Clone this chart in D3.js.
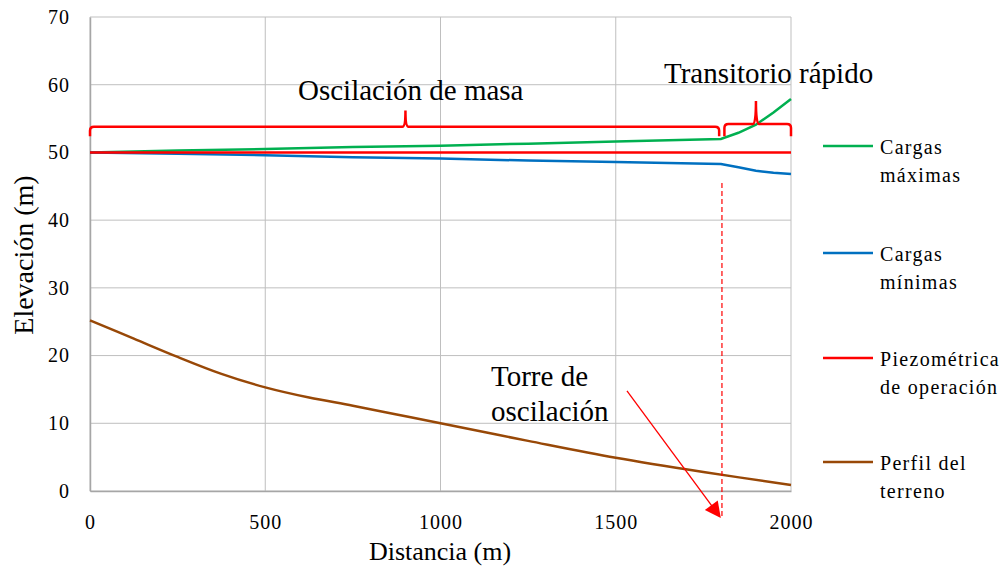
<!DOCTYPE html>
<html>
<head>
<meta charset="utf-8">
<script src="https://cdn.jsdelivr.net/npm/d3@7"></script>
<style>
  body { margin: 0; background: #fff; }
  svg text { font-family: "Liberation Serif", "Tinos", "DejaVu Serif", serif !important; fill: #000; }
</style>
</head>
<body>
<svg id="chart" width="1008" height="567"></svg>
<script>

// data
var dist      = [0, 250, 500, 750, 1000, 1250, 1500, 1800, 1850, 1900, 1950, 2000];
var cargasMax = [50, 50.3, 50.5, 50.8, 51.0, 51.3, 51.6, 52.0, 52.9, 54.1, 55.9, 57.9];
var cargasMin = [50, 49.8, 49.6, 49.3, 49.1, 48.8, 48.6, 48.3, 47.8, 47.3, 47.0, 46.8];
var piezo     = [50, 50, 50, 50, 50, 50, 50, 50, 50, 50, 50, 50];

var terrenoX  = [0, 125, 250, 375, 500, 625, 750, 875, 1000, 1250, 1500, 1750, 2000];
var terrenoY  = [25.2, 22.5, 19.8, 17.3, 15.3, 13.8, 12.6, 11.3, 10.0, 7.4, 4.9, 2.8, 0.9];

var xTicks = [0, 500, 1000, 1500, 2000];
var yTicks = [0, 10, 20, 30, 40, 50, 60, 70];

var series = [
  {name: ["Cargas", "máximas"], color: "#00b050", x: dist, y: cargasMax},
  {name: ["Cargas", "mínimas"], color: "#0070c0", x: dist, y: cargasMin},
  {name: ["Piezométrica", "de operación"], color: "#ff0000", x: dist, y: piezo},
  {name: ["Perfil del", "terreno"], color: "#984807", x: terrenoX, y: terrenoY}
];

var svg = d3.select('#chart');

var x = d3.scaleLinear().domain([0, 2000]).range([90, 791]);
var y = d3.scaleLinear().domain([0, 70]).range([491, 17]);

// grid
svg.append('g').selectAll('line.h')
   .data(yTicks).enter().append('line')
   .attr('x1', x(0)).attr('x2', x(2000))
   .attr('y1', function(d){ return y(d); })
   .attr('y2', function(d){ return y(d); })
   .attr('stroke', '#bfbfbf').attr('stroke-width', 1);

svg.append('g').selectAll('line.v')
   .data(xTicks).enter().append('line')
   .attr('y1', y(0)).attr('y2', y(70))
   .attr('x1', function(d){ return x(d); })
   .attr('x2', function(d){ return x(d); })
   .attr('stroke', '#bfbfbf').attr('stroke-width', 1);

// axes
var xAxis = d3.axisBottom(x).tickValues(xTicks).tickFormat(d3.format('d')).tickSize(0).tickPadding(20);
var yAxis = d3.axisLeft(y).tickValues(yTicks).tickFormat(d3.format('d')).tickSize(0).tickPadding(20);

var gx = svg.append('g').attr('transform', 'translate(0,' + y(0) + ')').call(xAxis);
var gy = svg.append('g').attr('transform', 'translate(' + x(0) + ',0)').call(yAxis);

[gx, gy].forEach(function(g){
  g.attr('font-family', null);
  g.select('.domain').attr('stroke', '#a6a6a6').attr('stroke-width', 1.5);
  g.selectAll('text')
   .style('font-size', '20px')
   .style('letter-spacing', '1px')
   .attr('fill', '#000');
});
gx.selectAll('text').attr('dy', '0.9em');

svg.append('text')
   .attr('x', 440).attr('y', 560)
   .attr('text-anchor', 'middle')
   .style('font-size', '26px')
   .text('Distancia (m)');

svg.append('text')
   .attr('transform', 'translate(33,255) rotate(-90)')
   .attr('text-anchor', 'middle')
   .style('font-size', '28px')
   .text('Elevación (m)');

// series
var line = d3.line()
  .x(function(d){ return x(d[0]); })
  .y(function(d){ return y(d[1]); });

var smooth = d3.line()
  .x(function(d){ return x(d[0]); })
  .y(function(d){ return y(d[1]); })
  .curve(d3.curveCatmullRom);

series.forEach(function(s, i){
  var pts = s.x.map(function(v, j){ return [v, s.y[j]]; });
  svg.append('path')
     .datum(pts)
     .attr('d', i == 3 ? smooth : line)
     .attr('fill', 'none')
     .attr('stroke', s.color)
     .attr('stroke-width', 2.5);
});

// annotations: brackets
function bracket(x0, x1, xm, top, hook, peak){
  var p = d3.path();
  p.moveTo(x(x0), y(hook));
  p.lineTo(x(x0), y(top) + 4);
  p.quadraticCurveTo(x(x0), y(top), x(x0) + 4, y(top));
  p.lineTo(x(xm) - 3, y(top));
  p.quadraticCurveTo(x(xm), y(top), x(xm), y(peak));
  p.quadraticCurveTo(x(xm), y(top), x(xm) + 3, y(top));
  p.lineTo(x(x1) - 4, y(top));
  p.quadraticCurveTo(x(x1), y(top), x(x1), y(top) + 4);
  p.lineTo(x(x1), y(hook));
  return p.toString();
}

svg.append('path')
   .attr('d', bracket(0, 1795, 900, 53.8, 52.4, 56.2))
   .attr('fill', 'none').attr('stroke', '#ff0000').attr('stroke-width', 2.5);

svg.append('path')
   .attr('d', bracket(1810, 2000, 1900, 54.2, 52.4, 57.6))
   .attr('fill', 'none').attr('stroke', '#ff0000').attr('stroke-width', 2.5);

// dashed tower line
svg.append('line')
   .attr('x1', x(1803)).attr('x2', x(1803))
   .attr('y1', y(45.5)).attr('y2', y(-4))
   .attr('stroke', '#ff0000').attr('stroke-width', 1.2)
   .attr('stroke-dasharray', '5,3');

// arrow
svg.append('defs').append('marker')
   .attr('id', 'head')
   .attr('viewBox', '0 0 10 10')
   .attr('refX', 9).attr('refY', 5)
   .attr('markerWidth', 20).attr('markerHeight', 16)
   .attr('markerUnits', 'userSpaceOnUse')
   .attr('orient', 'auto')
   .append('path')
   .attr('d', 'M0,0 L10,5 L0,10 Z')
   .attr('fill', '#ff0000');

svg.append('line')
   .attr('x1', x(1532)).attr('y1', y(14.8))
   .attr('x2', x(1797)).attr('y2', y(-3.8))
   .attr('stroke', '#ff0000').attr('stroke-width', 1.3)
   .attr('marker-end', 'url(#head)');

// labels
svg.append('text').attr('x', 298).attr('y', 100)
   .style('font-size', '29px').text('Oscilación de masa');
svg.append('text').attr('x', 664).attr('y', 83)
   .style('font-size', '29px').text('Transitorio rápido');
svg.append('text').attr('x', 491).attr('y', 386)
   .style('font-size', '29px').text('Torre de');
svg.append('text').attr('x', 491).attr('y', 421)
   .style('font-size', '29px').text('oscilación');

// legend
var legendY = [146, 253, 358, 462];

var legend = svg.append('g').selectAll('g')
  .data(series).enter().append('g')
  .attr('transform', function(d, i){ return 'translate(823,' + legendY[i] + ')'; });

legend.append('line')
  .attr('x1', 0).attr('x2', 50)
  .attr('stroke', function(d){ return d.color; })
  .attr('stroke-width', 2.5);

legend.append('text')
  .attr('x', 57).attr('y', 8)
  .style('font-size', '20px')
  .style('letter-spacing', '1.3px')
  .text(function(d){ return d.name[0]; });

legend.append('text')
  .attr('x', 57).attr('y', 36)
  .style('font-size', '20px')
  .style('letter-spacing', '1.3px')
  .text(function(d){ return d.name[1]; });

</script>
</body>
</html>
